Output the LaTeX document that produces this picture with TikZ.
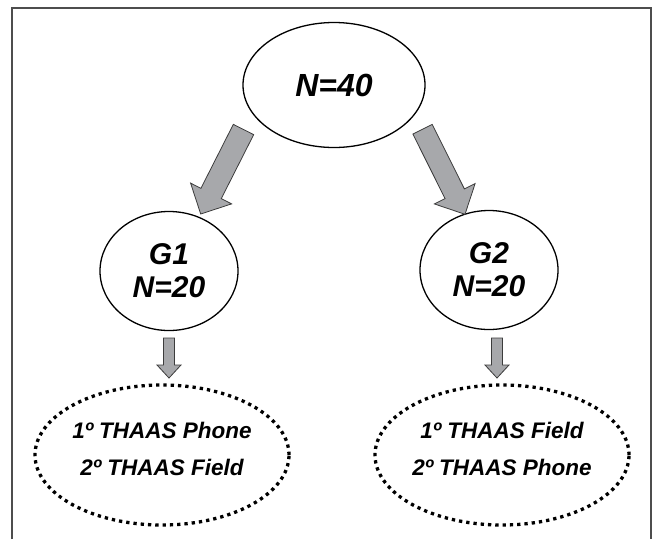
\documentclass[tikz,border=0pt]{standalone}
\usepackage{fontspec}
\setmainfont{Liberation Sans}
\usetikzlibrary{shapes.geometric,calc}

\definecolor{arrowgray}{HTML}{A7A8AB}
\definecolor{arrowline}{HTML}{3C3C3C}
\definecolor{framegray}{HTML}{4D4D4D}

\tikzset{
  group/.style={ellipse,draw,line width=1.3pt,inner sep=0pt,align=center,
    minimum width=138pt,minimum height=119pt,
    font=\fontsize{30}{33}\selectfont\bfseries\itshape},
  order/.style={ellipse,draw,line width=3.3pt,dash pattern=on 3.3pt off 4pt,
    inner sep=0pt,align=center,minimum width=254pt,minimum height=140pt,
    text depth=12pt,font=\fontsize{22.5}{37}\selectfont\bfseries\itshape},
  fat/.style={fill=arrowgray,draw=arrowline,line width=0.8pt,line join=miter}
}

% block arrow: start, tip, half shaft, half head, head length
\newcommand{\fatarrow}[5]{%
  \coordinate (fhead) at ($(#2)!#5!(#1)$);
  \filldraw[fat] ($(#1)!#3!90:(#2)$) -- ($(fhead)!#3!90:(#2)$)
    -- ($(fhead)!#4!90:(#2)$) -- (#2) -- ($(fhead)!#4!-90:(#2)$)
    -- ($(fhead)!#3!-90:(#2)$) -- ($(#1)!#3!-90:(#2)$) -- cycle;}

\begin{document}
\begin{tikzpicture}[x=1pt,y=-1pt]
  \useasboundingbox (0,0) rectangle (655,539);
  \draw[framegray,line width=1.6pt] (12,539) -- (12,8) -- (651,8) -- (651,539);

  \node (total) at (334,85) [group,minimum width=182pt,minimum height=125pt,
    font=\fontsize{32}{36}\selectfont\bfseries\itshape] {N=40};

  \node (g1) at (169,271) [group] {G1\\N=20};
  \node (g2) at (489,270) [group] {G2\\N=20};

  \node (seq1) at (162,455) [order] {1º THAAS Phone\\2º THAAS Field};
  \node (seq2) at (502,455) [order] {1º THAAS Field\\2º THAAS Phone};

  % arrows
  \coordinate (a1s) at (243.5,129.5);
  \coordinate (a1t) at (200.7,214);
  \coordinate (a2s) at (422.5,129.2);
  \coordinate (a2t) at (465,214.3);
  \fatarrow{a1s}{a1t}{11.4pt}{23pt}{23pt}
  \fatarrow{a2s}{a2t}{10.8pt}{22.8pt}{23pt}

  \coordinate (b1s) at (g1.south |- 0,338);
  \coordinate (b1t) at (g1.south |- 0,378);
  \coordinate (b2s) at (497,338);
  \coordinate (b2t) at (497,378);
  \fatarrow{b1s}{b1t}{5.5pt}{12pt}{13pt}
  \fatarrow{b2s}{b2t}{5.5pt}{12pt}{13pt}

\end{tikzpicture}
\end{document}
